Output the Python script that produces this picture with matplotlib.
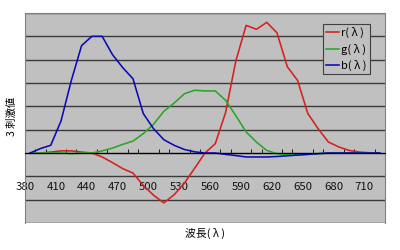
import numpy as np
import matplotlib
matplotlib.use('Agg')
import matplotlib.pyplot as plt

plt.rcParams['font.family'] = ['Noto Sans CJK JP', 'DejaVu Sans']

# wavelength categories (nm)
wl = [380, 390, 400, 410, 420, 430, 440, 450, 460, 470,
      480, 490, 500, 510, 520, 530, 540, 550, 560, 570,
      580, 590, 600, 610, 620, 630, 640, 650, 660, 670,
      680, 690, 700, 710, 720]
r = [0, 0, 0.04, 0.09, 0.09, 0.04, 0, -0.17, -0.41, -0.67,
     -0.86, -1.39, -1.81, -2.14, -1.79, -1.29, -0.65, 0, 0.4, 1.73,
     3.95, 5.47, 5.3, 5.6, 5.15, 3.7, 3.11, 1.69, 1.04, 0.47,
     0.26, 0.11, 0.04, 0.01, 0]
g = [0, 0, 0, 0, -0.03, 0, 0, 0.09, 0.21, 0.37,
     0.51, 0.83, 1.23, 1.79, 2.14, 2.54, 2.69, 2.66, 2.66, 2.26,
     1.6, 0.9, 0.47, 0.11, -0.03, -0.07, -0.07, -0.06, -0.03, 0,
     0, 0, 0, 0, 0]
b = [0, 0.19, 0.33, 1.37, 3.1, 4.6, 5.0, 5.0, 4.22, 3.66,
     3.18, 1.69, 1.04, 0.57, 0.33, 0.15, 0.05, 0, 0, -0.06,
     -0.11, -0.17, -0.17, -0.17, -0.15, -0.12, -0.09, -0.06, -0.03, 0,
     0, 0, 0, 0, 0]
xlabels = [380, 410, 440, 470, 500, 530, 560, 590, 620, 650, 680, 710]

fig = plt.figure(figsize=(4, 2.5), dpi=100)
ax = fig.add_axes([25/400, 1-223/250, 360/400, 210/250])
ax.set_facecolor('#c0c0c0')

ax.plot(wl, r, color='#d42020', lw=1.15, label='r( λ )')
ax.plot(wl, g, color='#2aa52a', lw=1.15, label='g( λ )')
ax.plot(wl, b, color='#0a0ab4', lw=1.15, label='b( λ )')

ax.set_xlim(375, 725)
ax.set_ylim(-3, 6)
ax.set_yticks(range(-3, 7))
ax.tick_params(axis='y', length=0, labelleft=False)
ax.yaxis.grid(True, color='#3a3a3a', lw=1)
ax.set_axisbelow(True)

for s in ['left', 'right', 'top']:
    ax.spines[s].set_color('#808080')
ax.spines['bottom'].set_position(('data', 0))
ax.spines['bottom'].set_color('black')

# labels sit on the category boundaries, like the original
ax.set_xticks([v - 5 for v in xlabels])
ax.set_xticklabels([str(v) for v in xlabels], fontsize=8.2)
ax.set_xticks([v - 5 for v in wl] + [725], minor=True)
ax.tick_params(axis='x', which='major', length=0, pad=21, labelcolor='#111111')
ax.tick_params(axis='x', which='minor', direction='in', length=3, color='black')

ax.set_ylabel('3 刺激値', fontsize=7.5)
ax.yaxis.set_label_coords(-0.024, 0.51)
ax.set_xlabel('波長( λ )', fontsize=7.8)
ax.xaxis.set_label_coords(0.5, -0.05)
ax.xaxis.label.set_va('center')

leg = ax.legend(loc='upper right', bbox_to_anchor=(370/400, 1-24/250),
                bbox_transform=fig.transFigure, fontsize=8, fancybox=False,
                framealpha=1, facecolor='#c0c0c0', edgecolor='#404040',
                handlelength=1.2, handletextpad=0.15, labelspacing=0.45,
                borderpad=0.3, borderaxespad=0)
leg.get_frame().set_linewidth(0.8)

fig.savefig('out.png', dpi=100)
